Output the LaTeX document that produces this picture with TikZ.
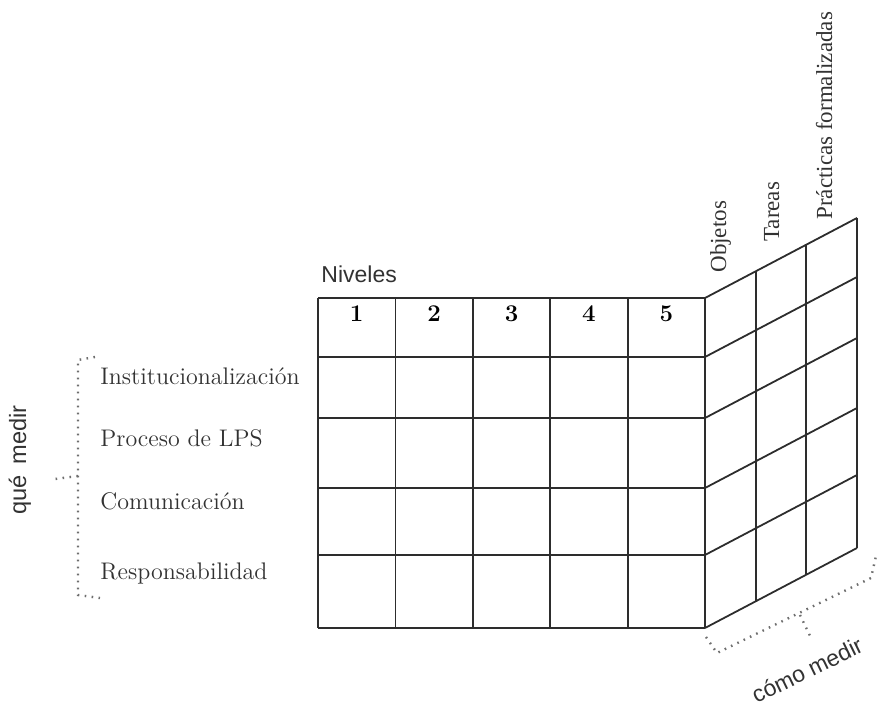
\documentclass[tikz,border=0pt]{standalone}
\usepackage{fontspec}
\setsansfont{Liberation Sans}
\newfontfamily\colfont{Liberation Serif}
\usetikzlibrary{positioning}
\definecolor{gridgray}{RGB}{45,45,45}
\definecolor{textgray}{RGB}{50,50,50}
\definecolor{dotgray}{RGB}{110,110,110}

\tikzset{
  grid/.style={gridgray, line width=0.9pt},
  bracket/.style={dotgray, line width=1.2pt, dash pattern=on 0.8pt off 2.7pt},
  rowlabel/.style={textgray, anchor=base west, inner sep=0pt, font=\fontsize{12}{14}\selectfont},
  num/.style={anchor=base, inner sep=0pt, font=\fontsize{12}{14}\selectfont\bfseries},
  collabel/.style={textgray, rotate=90, anchor=base west, inner sep=0pt, font=\colfont\fontsize{11.5}{13}\selectfont},
  sidetext/.style={textgray, inner sep=0pt, font=\sffamily\fontsize{11.8}{13}\selectfont}
}

\begin{document}
\begin{tikzpicture}[x=0.5pt, y=-0.5pt]
  \useasboundingbox (0,0) rectangle (877,704);
  % front face
  \foreach \y in {298,357,418,488,555,628}
    \draw[grid] (318,\y) -- (705,\y);
  \foreach \i in {0,...,5}
    \draw[grid] ({318+77.4*\i},298) -- ({318+77.4*\i},628);
  % side face
  \foreach \y in {298,357,418,488,555,628}
    \draw[grid] (705,\y) -- ++(152,-80);
  \foreach \i in {1,2,3}
    \draw[grid] ({705+50.67*\i},{298-26.67*\i}) -- ++(0,330);

  \node[sidetext, anchor=base west, font=\sffamily\fontsize{11.5}{13}\selectfont] (niveles) at (321,283) {Niveles};
  \foreach \i in {1,...,5}
    \node[num] (n\i) at ({318+77.4*\i-38.7},322) {\i};

  \foreach \t/\y/\n in {Institucionalización/385/inst, Proceso de LPS/447/proc,
                        Comunicación/510/com, Responsabilidad/580/resp}
    \node[rowlabel] (\n) at (100,\y) {\t};

  \node[collabel] (obj) at (726,273) {Objetos};
  \node[collabel] (tar) at (779,242) {Tareas};
  \node[collabel] (prac) at (832,220) {Prácticas formalizadas};

  % brackets
  \draw[bracket] (95,357) -- (78,360) -- (78,595) -- (100,598);
  \draw[bracket] (78,476) -- (55,479);
  \node[sidetext, rotate=90] (que) at (20,460) {qué\, medir};

  \draw[bracket] (706,637) -- (717,653) -- (871,578) -- (876,556);
  \draw[bracket] (800,615) -- (812,640);
  \node[sidetext, rotate=26, font=\sffamily\fontsize{11.5}{13}\selectfont] (como) at (807,670) {cómo medir};
\end{tikzpicture}
\end{document}
